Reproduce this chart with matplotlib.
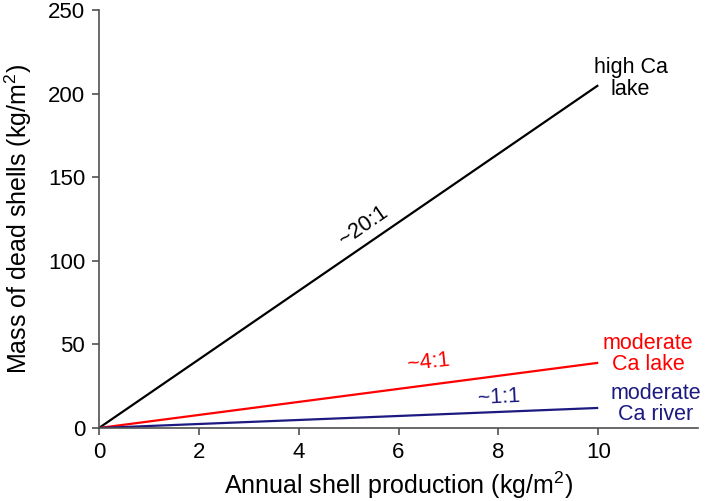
import numpy as np
import matplotlib
matplotlib.use('AGG')
import matplotlib.pyplot as plt

plt.rcParams['font.family'] = ['Liberation Sans', 'DejaVu Sans']
plt.rcParams['mathtext.default'] = 'regular'

# production (x) and dead shell mass (y) at the line ends
x_start = [0, 0, 0]
x_end = [10, 10, 10]
y_end = [205, 39, 12]
names = ['high Ca\nlake', 'moderate\nCa lake', 'moderate\nCa river']
ratios = ['~20:1', '~4:1', '~1:1']
colors = ['black', '#ff0000', '#1c1a80']

fig = plt.figure(figsize=(7.09, 5.01), dpi=100)
ax = fig.add_axes([0.1396, 0.1457, 0.845, 0.8343])

for i in range(3):
    ax.plot([x_start[i], x_end[i]], [0, y_end[i]], color=colors[i],
            linewidth=1.6, solid_capstyle='butt')

# end labels
lbl = dict(fontsize=15.5, ha='center', va='center', linespacing=1.05)
ax.text(10.65, 209, names[0], color=colors[0], **lbl)
ax.text(11.0, 44.3, names[1], color=colors[1], **lbl)
ax.text(11.15, 14.3, names[2], color=colors[2], **lbl)

# ratio labels along the lines
ax.text(5.3, 121, ratios[0], color=colors[0], fontsize=15.5, ha='center', va='center', rotation=34.6)
ax.text(6.6, 39, ratios[1], color=colors[1], fontsize=15.5, ha='center', va='center', rotation=6)
ax.text(8.0, 18.5, ratios[2], color=colors[2], fontsize=15.5, ha='center', va='center', rotation=3)

ax.set_xlim(0, 12)
ax.set_ylim(0, 250)
ax.set_xticks([0, 2, 4, 6, 8, 10])
ax.set_yticks([0, 50, 100, 150, 200, 250])
for s in ['top', 'right']:
    ax.spines[s].set_visible(False)
for s in ['left', 'bottom']:
    ax.spines[s].set_color('#505050')
    ax.spines[s].set_linewidth(1.2)
ax.tick_params(direction='out', length=5, width=1.2, color='#505050', labelsize=16, pad=5)
ax.set_xlabel('Annual shell production (kg/m$^2$)', fontsize=18, labelpad=5)
ax.set_ylabel('Mass of dead shells (kg/m$^2$)', fontsize=18, labelpad=10)

plt.savefig('out.png', dpi=100)
